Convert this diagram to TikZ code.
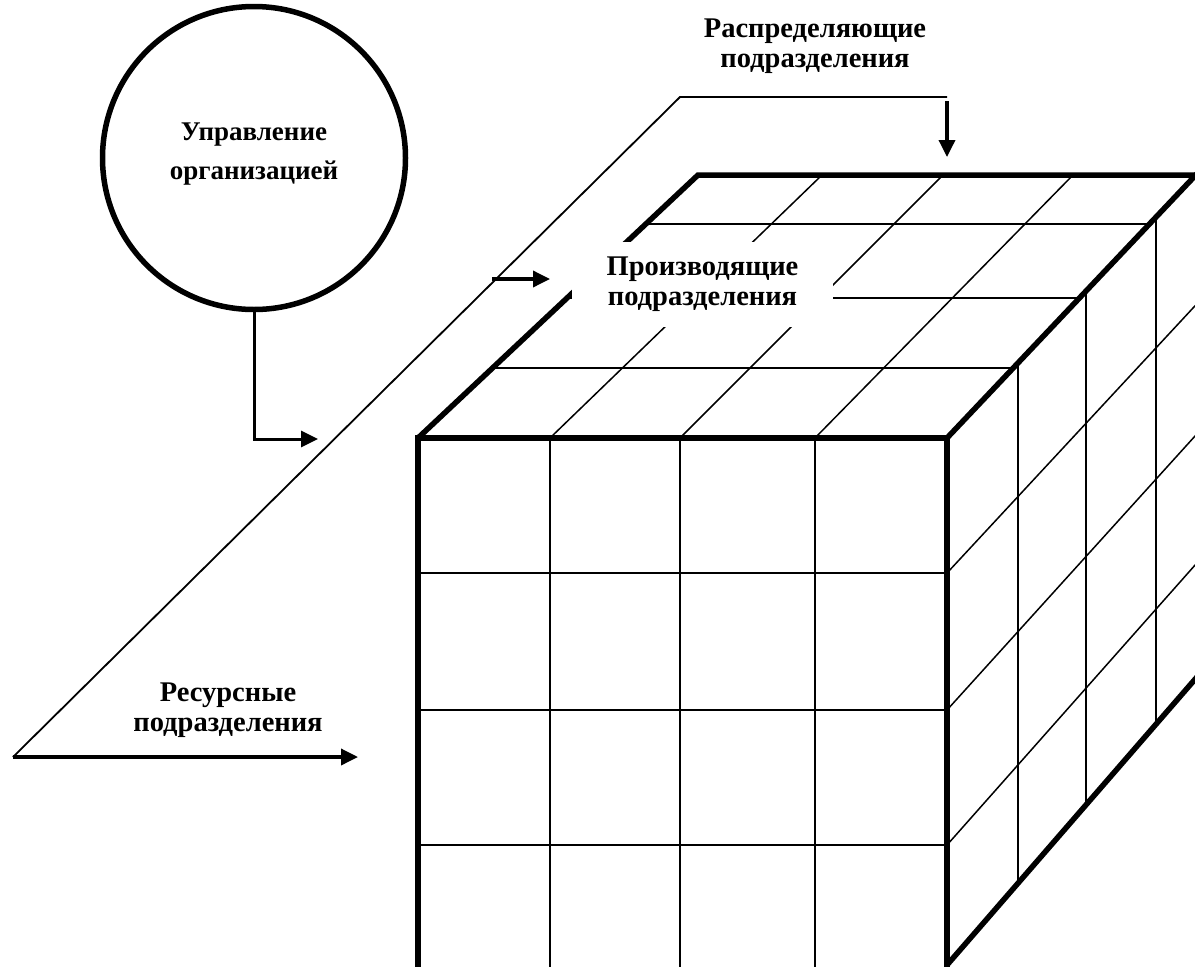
\documentclass[tikz,border=0pt]{standalone}
\usepackage{fontspec}
\setmainfont{Liberation Serif}
\usetikzlibrary{arrows.meta}
\begin{document}
\begin{tikzpicture}[x=1pt,y=-1pt,
  edge/.style={line width=5.5pt, line join=miter},
  gridline/.style={line width=1.5pt},
  thinline/.style={line width=1.8pt},
  conn/.style={line width=3.5pt, -{Triangle[length=17pt,width=16pt]}},
  lbl/.style={font=\bfseries\fontsize{28.5}{30}\selectfont, align=center, inner sep=0pt},
]
\useasboundingbox (0,0) rectangle (1195,967);
\clip (0,0) rectangle (1195,967);

% front face grid
\foreach \x in {550,680,815} \draw[gridline] (\x,438) -- (\x,985);
\foreach \y in {573,710,845} \draw[gridline] (418,\y) -- (947,\y);

% top face grid
\draw[gridline] (550,438) -- (822,175);
\draw[gridline] (680,438) -- (943,175);
\draw[gridline] (815,438) -- (1073,175);
\draw[gridline] (492.5,368) -- (1013.3,368);
\draw[gridline] (567,298) -- (1079.5,298);
\draw[gridline] (645.8,224) -- (1149.6,224);

% right face grid
\draw[gridline] (1018,363) -- (1018,883);
\draw[gridline] (1086,291) -- (1086,805);
\draw[gridline] (1156,217) -- (1156,724);
\draw[gridline] (947,573) -- (1210,289.7);
\draw[gridline] (947,710) -- (1210,419.5);
\draw[gridline] (947,845) -- (1210,548.2);

% thick outline
\draw[edge] (418,985) -- (418,438) -- (947,438) -- (947,985);
\draw[edge] (418,438) -- (698,175) -- (1210,175);
\draw[edge] (947,438) -- (1210,160);
\draw[edge] (947,965) -- (1210,662);

% label on the top face (white background hides the grid)
\node[lbl, fill=white, minimum width=261pt, minimum height=85pt] (prod)
  at (702.5,284.5) {Производящие\\подразделения};

% management circle
\node[draw, circle, line width=5.5pt, minimum size=303pt, inner sep=0pt] (ctrl) at (254,158) {};
\node[lbl, font=\bfseries\fontsize{27}{39}\selectfont] (ctrltext) at (254,154) {Управление\\организацией};

% distributing units
\node[lbl] (dist) at (815,46) {Распределяющие\\подразделения};

% resource units
\node[lbl] (res) at (228,710) {Ресурсные\\подразделения};

% plane of resource units and arrows
\coordinate (r0) at (13,757);
\coordinate (r1) at (358,757);
\coordinate (pk) at (680,97);
\coordinate (pr) at (947,97);
\coordinate (d0) at (947,101);
\coordinate (d1) at (947,157);
\coordinate (m0) at (492,279);
\coordinate (m1) at (550,279);
\coordinate (c1) at (318,439);

\draw[thinline, line join=miter] (r0) -- (pk) -- (pr);
\draw[conn] (r0) -- (r1);
\draw[conn] (d0) -- (d1);
\draw[conn] (m0) -- (m1);
\draw[conn, line width=3pt] (ctrl.south) |- (c1);
\end{tikzpicture}
\end{document}
